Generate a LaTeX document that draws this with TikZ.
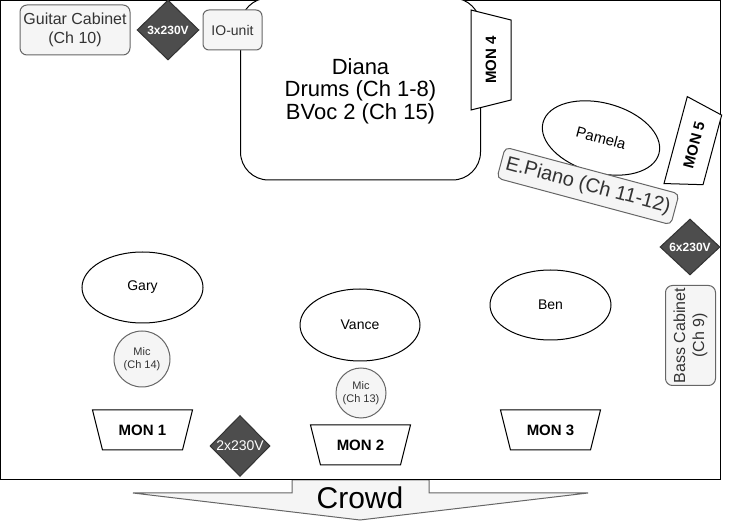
\documentclass[tikz,border=0pt]{standalone}
\usepackage{fontspec}
\setmainfont{Liberation Sans}
\usetikzlibrary{shapes.geometric}
\definecolor{gfill}{HTML}{F5F5F5}
\definecolor{gline}{HTML}{666666}
\definecolor{gtext}{HTML}{333333}
\definecolor{dfill}{HTML}{4D4D4D}
\newcommand\fsz[2]{\fontsize{#1}{#2}\selectfont}
\tikzset{
  graybox/.style={draw=gline, fill=gfill, text=gtext, line width=1pt, inner sep=0pt, align=center},
  power/.style={diamond, draw=gtext, fill=dfill, text=white, line width=1pt, inner sep=0pt, aspect=1},
  monshape/.style={draw, fill=white, line width=1pt, line join=miter},
  montext/.style={inner sep=0pt, font=\fsz{15}{17}\bfseries},
  person/.style={ellipse, draw, fill=white, line width=1pt, inner sep=0pt, font=\fsz{14}{17}},
  micnode/.style={circle, draw=gline, fill=gfill, text=gtext, line width=1pt, inner sep=0pt, align=center, font=\fsz{11}{13}}
}
\begin{document}
\begin{tikzpicture}[x=1pt,y=-1pt]
\useasboundingbox (0,0) rectangle (729,521);
% crowd arrow
\draw[draw=gline, fill=gfill, line width=1pt] (292,480) -- (429,480) -- (429,493) -- (588,493) -- (360,520) -- (133,493) -- (292,493) -- cycle;
\node[font=\fsz{30}{34}] (crowd) at (360,498) {Crowd};
% stage frame
\draw[line width=1pt] (0.5,0.5) rectangle (720,480);
% drums
\node[draw, fill=white, line width=1pt, rounded corners=28, minimum width=240, minimum height=182, align=center] (diana) at (360.5,89) {};
\node[align=center, font=\fsz{22}{22.5}, inner sep=0pt] (dianatext) at (360.5,91) {Diana\\Drums (Ch 1-8)\\BVoc 2 (Ch 15)};
\node[graybox, rounded corners=6, minimum width=59, minimum height=40, font=\fsz{14}{17}] (io) at (232.5,30) {IO-unit};
\node[graybox, rounded corners=7, minimum width=110, minimum height=50, font=\fsz{16}{19}] (guitar) at (75,30) {Guitar Cabinet\\(Ch 10)};
\node[power, minimum width=62, minimum height=60, font=\fsz{12}{14}\bfseries] (p3) at (168,30) {3x230V};
\begin{scope}[shift={(491,60)}, rotate=90]
  \draw[monshape] (-50,-20) -- (50,-20) -- (40,20) -- (-40,20) -- cycle;
  \node[montext, rotate=90] (mon4) at (0,0) {MON 4};
\end{scope}
% Pamela
\node[person, minimum width=120, minimum height=70, rotate=-15, font=\fsz{15}{17}] (pamela) at (601,138) {Pamela};
\node[graybox, rounded corners=5, minimum width=180, minimum height=32, rotate=-15, font=\fsz{20}{22}] (epiano) at (588,186) {E.Piano (Ch 11-12)};
\begin{scope}[shift={(694,145)}, rotate=75]
  \draw[monshape] (-45,-19) -- (45,-19) -- (36,19) -- (-36,19) -- cycle;
  \node[montext, rotate=75] (mon5) at (0,0) {MON 5};
\end{scope}
\node[power, minimum width=60, minimum height=56, font=\fsz{12}{14}\bfseries] (p6) at (690,247) {6x230V};
\node[graybox, rounded corners=7, minimum width=100, minimum height=50, rotate=90, font=\fsz{16}{19}] (bass) at (690.5,335.5) {Bass Cabinet\\(Ch 9)};
% front line
\node[person, minimum width=121, minimum height=71] (gary) at (142.5,287.5) {Gary};
\node[micnode, minimum size=56] (mic14) at (142,359) {Mic\\(Ch 14)};
\node[person, minimum width=120, minimum height=72] (vance) at (360,325) {Vance};
\node[micnode, minimum size=50] (mic13) at (361,393) {Mic\\(Ch 13)};
\node[person, minimum width=121, minimum height=70] (ben) at (550.5,305) {Ben};
\begin{scope}[shift={(142.5,430)}]
  \draw[monshape] (-50,-20) -- (50,-20) -- (40,20) -- (-40,20) -- cycle;
  \node[montext] (mon1) at (0,0) {MON 1};
\end{scope}
\begin{scope}[shift={(360.5,445)}]
  \draw[monshape] (-50,-20) -- (50,-20) -- (40,20) -- (-40,20) -- cycle;
  \node[montext] (mon2) at (0,0) {MON 2};
\end{scope}
\begin{scope}[shift={(550.5,430)}]
  \draw[monshape] (-50,-20) -- (50,-20) -- (40,20) -- (-40,20) -- cycle;
  \node[montext] (mon3) at (0,0) {MON 3};
\end{scope}
\node[power, minimum width=60, minimum height=61, font=\fsz{14}{16}] (p2) at (240,446) {2x230V};
\end{tikzpicture}
\end{document}
